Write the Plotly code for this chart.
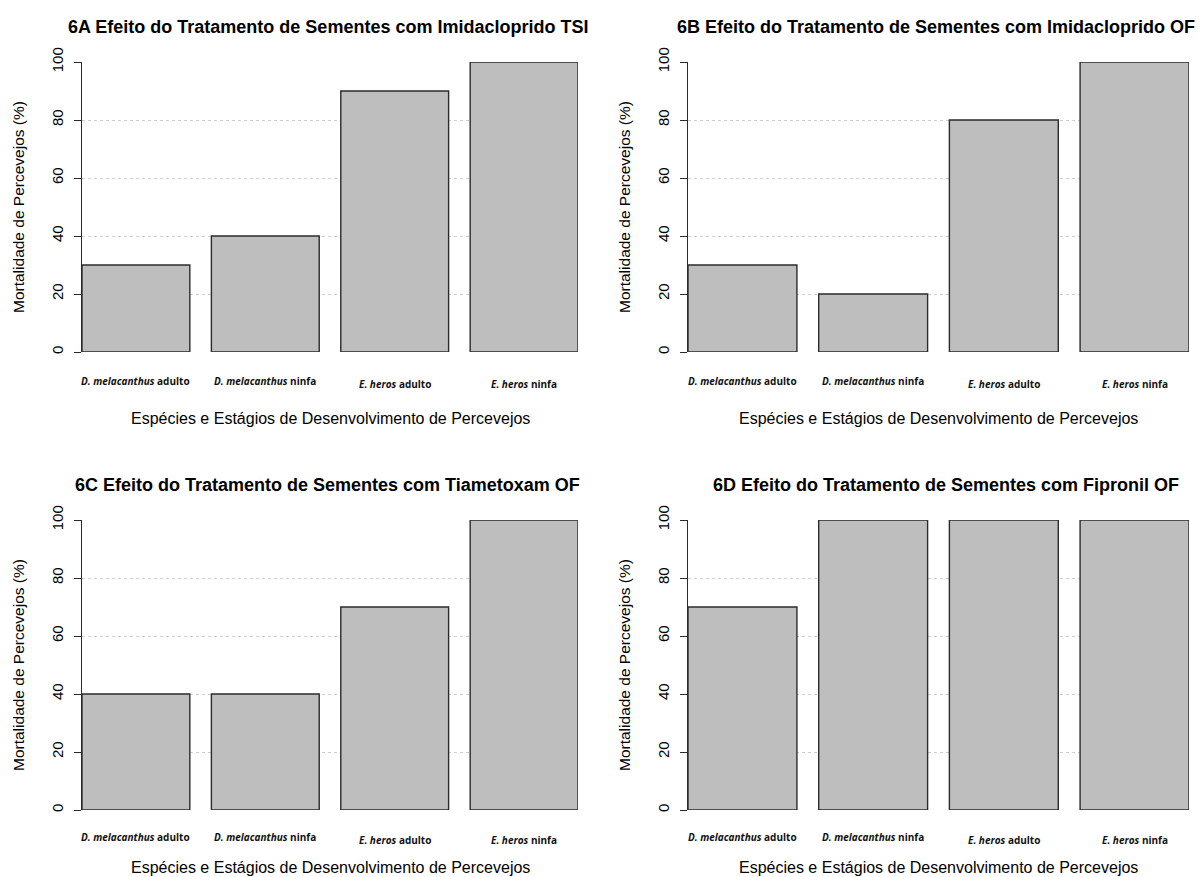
import plotly.graph_objects as go

categories = ["<i>D. melacanthus</i> adulto", "<i>D. melacanthus</i> ninfa",
              "<i>E. heros</i> adulto", "<i>E. heros</i> ninfa"]
titles = ["6A Efeito do Tratamento de Sementes com Imidacloprido TSI",
          "6B Efeito do Tratamento de Sementes com Imidacloprido OF",
          "6C Efeito do Tratamento de Sementes com Tiametoxam OF",
          "6D Efeito do Tratamento de Sementes com Fipronil OF"]
mort_6a = [30, 40, 90, 100]
mort_6b = [30, 20, 80, 100]
mort_6c = [40, 40, 70, 100]
mort_6d = [70, 100, 100, 100]
series = [mort_6a, mort_6b, mort_6c, mort_6d]
y_ticks = [0, 20, 40, 60, 80, 100]
x_title = "Espécies e Estágios de Desenvolvimento de Percevejos"
y_title = "Mortalidade de Percevejos (%)"

W, H = 1200, 877
# pixel boxes of each plot area: (left, right, top, bottom)
boxes = [(82, 578, 62, 352), (688, 1189, 62, 352),
         (82, 578, 520, 810), (688, 1189, 520, 810)]
cat_off = [29, 29, 27, 27]
xt_off = [66, 66, 57, 57]
title_dx = [0, 0, 0, 10]

fig = go.Figure()
bargap = 0.2 / 1.2
half = (1 - bargap) / 2
annotations = []
font_main = "Liberation Sans, Arial, sans-serif"

for i, (vals, title, box) in enumerate(zip(series, titles, boxes)):
    l, r, t, b = box
    xa = "x" if i == 0 else f"x{i+1}"
    ya = "y" if i == 0 else f"y{i+1}"
    xpos = list(range(len(categories)))
    fig.add_trace(go.Bar(
        x=xpos, y=vals, xaxis=xa, yaxis=ya,
        marker=dict(color="#bebebe", line=dict(color="#2b2b2b", width=1.4)),
        width=1 - bargap, showlegend=False, hoverinfo="x+y",
    ))
    xkey = "xaxis" if i == 0 else f"xaxis{i+1}"
    ykey = "yaxis" if i == 0 else f"yaxis{i+1}"
    fig.layout[xkey] = dict(
        domain=[l / W, r / W], anchor=ya,
        range=[-half, len(categories) - 1 + half],
        showgrid=False, zeroline=False, showline=False,
        showticklabels=False, ticks="", fixedrange=True, automargin=False,
    )
    fig.layout[ykey] = dict(
        domain=[1 - b / H, 1 - t / H], anchor=xa,
        range=[0, 100], tickvals=y_ticks,
        ticktext=[str(v) for v in y_ticks],
        tickangle=-90, ticks="outside", ticklen=7, tickwidth=1.4,
        tickcolor="#2b2b2b", showline=True, linecolor="#2b2b2b", linewidth=1.4,
        showgrid=True, gridcolor="#cfcfcf", griddash="dot", gridwidth=1,
        zeroline=False, ticklabelstandoff=5, automargin=False,
        tickfont=dict(family=font_main, size=15, color="#000"),
        fixedrange=True,
    )
    # category labels
    for k, cat in enumerate(categories):
        annotations.append(dict(
            x=k, y=0, xref=xa, yref=ya,
            yshift=-cat_off[i] if k < 2 else -(cat_off[i] + 3),
            text=cat, showarrow=False, xanchor="center", yanchor="middle",
            font=dict(family="Open Sans, Liberation Sans, sans-serif", size=10,
                      color="#111", weight="bold"),
        ))
    # x axis title
    annotations.append(dict(
        x=(l + r) / 2 / W, y=1 - (b + xt_off[i]) / H, xref="paper", yref="paper",
        text=x_title, showarrow=False, xanchor="center", yanchor="middle",
        font=dict(family=font_main, size=16, color="#000"),
    ))
    # y axis title
    annotations.append(dict(
        x=(l - 64) / W, y=1 - (t + b) / 2 / H, xref="paper", yref="paper",
        text=y_title, showarrow=False, textangle=-90,
        xanchor="center", yanchor="middle",
        font=dict(family=font_main, size=15.5, color="#000"),
    ))
    # panel title
    annotations.append(dict(
        x=((l + r) / 2 + title_dx[i]) / W - 0.002, y=1 - (t - 35) / H,
        xref="paper", yref="paper",
        text=f"<b>{title}</b>", showarrow=False, xanchor="center", yanchor="middle",
        font=dict(family=font_main, size=18, color="#000"),
    ))

fig.update_layout(
    width=W, height=H,
    margin=dict(l=0, r=0, t=0, b=0, pad=0, autoexpand=False),
    paper_bgcolor="white", plot_bgcolor="white",
    annotations=annotations,
    bargap=bargap,
)

fig.write_html(
    "out.html",
    config={"displayModeBar": False},
    post_script="document.body.style.margin='0';document.body.style.overflow='hidden';",
)
